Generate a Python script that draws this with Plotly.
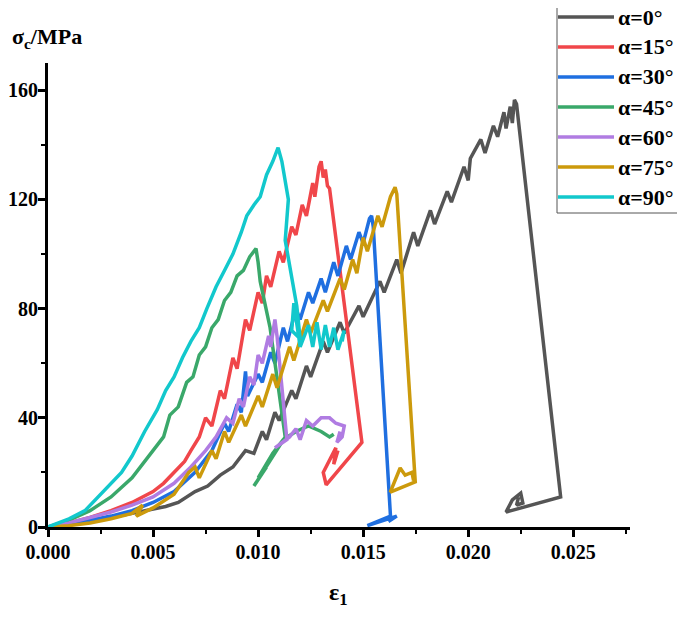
import plotly.graph_objects as go

names = ["α=0°", "α=15°", "α=30°", "α=45°", "α=60°", "α=75°", "α=90°"]
colors = ["#555555", "#F0464A", "#1F6FE0", "#3AA86A", "#B07CE2", "#CC9A0C", "#12C8CC"]

x0 = [0, 0.001, 0.002, 0.003, 0.004, 0.005, 0.0056, 0.0062, 0.007, 0.0076, 0.0082, 0.0088, 0.0094, 0.0098,
      0.0102, 0.0104, 0.0108, 0.0110, 0.0116, 0.0118, 0.0123, 0.0125, 0.0131, 0.0133, 0.0139, 0.0141, 0.0148,
      0.0150, 0.0158, 0.0160, 0.0166, 0.0168, 0.0174, 0.0176, 0.0182, 0.0184, 0.0190, 0.0192, 0.0198, 0.0200,
      0.0201, 0.0206, 0.0208, 0.0212, 0.0214, 0.0217, 0.0218, 0.0220, 0.0221, 0.0222, 0.0223, 0.0244, 0.0218,
      0.0221, 0.0225, 0.0226, 0.0223, 0.0224]
y0 = [0, 1.5, 2.5, 3.5, 5, 6.5, 7.5, 9, 13, 15, 19, 22, 28, 27,
      35, 32, 42, 39, 50, 47, 59, 55, 68, 64, 75, 71, 81,
      77, 90, 86, 98, 93, 108, 103, 116, 111, 123, 119, 132, 127,
      135, 142, 137, 147, 143, 152, 146, 154, 148, 156.5, 155, 11, 5.5,
      9.9, 12.4, 8.8, 8, 11]

x15 = [0, 0.001, 0.002, 0.003, 0.004, 0.005, 0.0055, 0.006, 0.0065, 0.0068, 0.0072, 0.0075, 0.0078, 0.0082,
       0.0084, 0.0088, 0.0090, 0.0094, 0.0096, 0.0100, 0.0102, 0.0104, 0.0106, 0.0110, 0.0112, 0.0116, 0.0118,
       0.0121, 0.0123, 0.0126, 0.0127, 0.0129, 0.0130, 0.0131, 0.0132, 0.0133, 0.0134, 0.01494, 0.01324, 0.0131,
       0.0135, 0.0137, 0.0136, 0.0138]
y15 = [0, 1.5, 3.5, 6, 9, 13, 16, 20, 24, 28, 33, 40, 37, 50,
       47, 62, 58, 76, 72, 86, 82, 92, 88, 101, 97, 110, 107,
       118, 114, 126, 121, 132, 134, 128, 131, 125, 124, 31, 15.4, 20,
       26, 29, 23, 28]

x30 = [0, 0.001, 0.002, 0.003, 0.004, 0.005, 0.006, 0.007, 0.0078, 0.0084, 0.0086, 0.0090, 0.0092, 0.0094,
       0.0095, 0.0100, 0.0102, 0.0106, 0.0108, 0.0112, 0.0114, 0.0118, 0.0120, 0.0124, 0.0126, 0.0130, 0.0132,
       0.0136, 0.0138, 0.0142, 0.0144, 0.0148, 0.0150, 0.0153, 0.0154, 0.01548, 0.0163, 0.0152, 0.0166, 0.0162]
y30 = [0, 1, 2.5, 4, 6, 9, 13, 20, 28, 38, 35, 45, 42, 57,
       48, 56, 53, 64, 60, 73, 68, 80, 76, 86, 82, 91, 86,
       97, 92, 103, 98, 108, 104, 113, 114, 110, 4, 0.5, 4, 2]

x45 = [0, 0.001, 0.002, 0.003, 0.004, 0.005, 0.0055, 0.0058, 0.0062, 0.0066, 0.0069, 0.0072, 0.0075, 0.0078,
       0.0081, 0.0084, 0.0087, 0.0090, 0.0093, 0.0096, 0.0099, 0.0100, 0.0101, 0.01057, 0.01129, 0.0098,
       0.0104, 0.0100, 0.0107, 0.0112, 0.0118, 0.0124, 0.0130, 0.0134, 0.0136]
y45 = [0, 2.5, 6, 11, 18, 28, 33, 41, 44, 53, 55, 63, 66, 73,
       76, 83, 86, 92, 94, 99, 102, 97, 90, 73, 33, 15,
       22, 18, 27, 32, 35, 37, 35, 33, 34]

x60 = [0, 0.001, 0.002, 0.003, 0.004, 0.005, 0.006, 0.0068, 0.0075, 0.0080, 0.0085, 0.0088, 0.0091, 0.0093,
       0.0096, 0.0098, 0.0100, 0.0102, 0.0105, 0.0106, 0.0108, 0.0109, 0.01137, 0.0108, 0.0115, 0.0118,
       0.0120, 0.0123, 0.0126, 0.0130, 0.0134, 0.0137, 0.0141, 0.0140, 0.01375, 0.0139]
y60 = [0, 1.5, 3.5, 5.5, 8, 11, 16, 22, 28, 33, 40, 38, 47, 44,
       55, 52, 63, 60, 70, 66, 76, 70, 32, 29, 33, 36,
       32, 39, 37, 40, 40, 38, 37, 33, 31, 35]

x75 = [0, 0.001, 0.002, 0.003, 0.004, 0.0045, 0.0042, 0.005, 0.006, 0.0067, 0.007, 0.0072, 0.0078, 0.008,
       0.0084, 0.0086, 0.0092, 0.0094, 0.0100, 0.0102, 0.0107, 0.0109, 0.0115, 0.0117, 0.0123, 0.0125, 0.0131,
       0.0133, 0.0139, 0.0141, 0.0145, 0.0147, 0.0150, 0.0152, 0.0157, 0.0159, 0.0163, 0.01652, 0.0166,
       0.01748, 0.01629, 0.01676, 0.0170, 0.01732, 0.0174]
y75 = [0, 0.5, 1.5, 3, 5, 8, 4, 7, 12, 20, 22, 18, 28, 25,
       35, 31, 41, 37, 48, 44, 56, 51, 66, 61, 76, 71, 83,
       79, 91, 87, 98, 93, 106, 101, 114, 110, 121, 124.5, 122,
       16.5, 12.8, 21.6, 19, 20, 17]

x90 = [0, 0.001, 0.00176, 0.0025, 0.0035, 0.0040, 0.0046, 0.0052, 0.0056, 0.0060, 0.0064, 0.0068, 0.0072,
       0.00756, 0.0080, 0.0084, 0.0088, 0.0092, 0.00946, 0.0098, 0.0101, 0.0104, 0.0107, 0.01095, 0.01113,
       0.01144, 0.01137, 0.01129, 0.01184, 0.0120, 0.0116, 0.0117, 0.0120, 0.0124, 0.0126, 0.0128, 0.0130,
       0.0132, 0.0134, 0.0136, 0.0138, 0.0141, 0.0140]
y90 = [0, 3, 6, 12, 20, 26, 35, 43, 50, 55, 62, 68, 73,
       80, 88, 94, 100, 108, 114, 118, 121, 129, 134, 139, 134,
       120, 112, 105, 81, 69, 72, 82, 66, 74, 66, 75, 65,
       74, 66, 73, 65, 72, 68]

series_x = [x0, x15, x30, x45, x60, x75, x90]
series_y = [y0, y15, y30, y45, y60, y75, y90]

# ---- layout geometry (figure pixels; the page adds an 8px body margin) ----
W, H = 677, 602
L, R, T, B = 40, 55, 55, 83
PW, PH = W - L - R, H - T - B


def px(fx):
    return (fx - L) / PW


def py(fy):
    return (H - B - fy) / PH


font_family = "Liberation Serif, Times New Roman, serif"

fig = go.Figure()
for i, (n, c) in enumerate(zip(names, colors)):
    fig.add_trace(go.Scatter(x=series_x[i], y=series_y[i], mode="lines", name=n,
                             line=dict(color=c, width=3.5), showlegend=False))

# legend box drawn as a framed key
shapes = [dict(type="rect", xref="paper", yref="paper",
               x0=px(549), x1=px(675), y0=py(205), y1=py(-8),
               line=dict(color="#555555", width=1), fillcolor="white", layer="above")]
annotations = []
for k, (n, c) in enumerate(zip(names, colors)):
    fy = 9 + 30 * k
    shapes.append(dict(type="line", xref="paper", yref="paper",
                       x0=px(550), x1=px(606), y0=py(fy), y1=py(fy),
                       line=dict(color=c, width=3.5), layer="above"))
    annotations.append(dict(text=n, xref="paper", yref="paper", x=px(608), y=py(fy),
                            xanchor="left", yanchor="middle", showarrow=False,
                            font=dict(size=22, family=font_family, weight="bold", color="black")))

annotations += [
    dict(text="σ<sub>c</sub>/MPa", xref="paper", yref="paper", x=px(39), y=py(30),
         xanchor="center", yanchor="middle", showarrow=False,
         font=dict(size=22, family=font_family, weight="bold")),
    dict(text="ε<sub>1</sub>", xref="paper", yref="paper", x=px(330), y=py(586),
         xanchor="center", yanchor="middle", showarrow=False,
         font=dict(size=24, family=font_family, weight="bold")),
]

fig.update_layout(
    width=W, height=H,
    margin=dict(l=L, r=R, t=T, b=B, autoexpand=False),
    plot_bgcolor="white", paper_bgcolor="white",
    font=dict(family=font_family, size=20, color="black", weight="bold"),
    showlegend=False,
    xaxis=dict(range=[0, 0.0277], dtick=0.005, tick0=0, tickformat=".3f",
               showline=True, linecolor="black", linewidth=3, mirror=False,
               ticks="outside", ticklen=7, tickwidth=2.5, tickcolor="black",
               showgrid=False, zeroline=False, automargin=False, ticklabelstandoff=-2,
               minor=dict(dtick=0.0025, ticks="outside", ticklen=4, tickwidth=2, tickcolor="black"),
               tickfont=dict(size=20, family=font_family, weight="bold")),
    yaxis=dict(range=[0, 170], dtick=40, tick0=0,
               showline=True, linecolor="black", linewidth=3, mirror=False,
               ticks="outside", ticklen=7, tickwidth=2.5, tickcolor="black",
               showgrid=False, zeroline=False, automargin=False, ticklabelstandoff=-4,
               minor=dict(dtick=20, ticks="outside", ticklen=4, tickwidth=2, tickcolor="black"),
               tickfont=dict(size=20, family=font_family, weight="bold")),
    shapes=shapes,
    annotations=annotations,
)

fig.write_html("out.html")
